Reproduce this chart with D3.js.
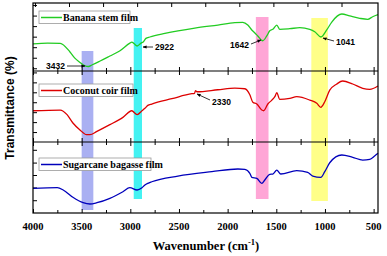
<!DOCTYPE html>
<html>
<head>
<meta charset="utf-8">
<script src="https://cdn.jsdelivr.net/npm/d3@7"></script>
<style>
  body { margin: 0; background: #fff; }
  svg { display: block; }
</style>
</head>
<body>
<svg width="387" height="256"></svg>
<script>
// FTIR spectra, values (relative transmittance, 0-100 within each panel)
const bananaWave = [4000, 3850, 3720, 3620, 3570, 3520, 3465, 3430, 3395, 3310, 3210, 3110, 3005, 2985, 2960, 2930, 2890, 2865, 2840, 2800, 2645, 2337, 2100, 1926, 1844, 1793, 1752, 1720, 1690, 1640, 1598, 1567, 1536, 1495, 1464, 1361, 1259, 1156, 1105, 1041, 982, 930, 827, 745, 643, 561, 510, 455];
const bananaT = [40, 41, 40.7, 28, 19, 13, 7.4, 6.6, 8.8, 14.7, 22, 29.4, 41, 42.6, 40, 36.8, 41, 43, 48, 50, 55.4, 63.2, 67.6, 71, 71.6, 67.6, 60.3, 55.9, 51.5, 44.5, 51.5, 59.2, 61.3, 67.6, 61.3, 62.2, 63.7, 61.3, 57.8, 50, 60.3, 72, 83.8, 80.9, 77.5, 76, 79.8, 82.8];

const coconutWave = [4000, 3720, 3650, 3590, 3520, 3450, 3415, 3343, 3210, 3076, 2985, 2930, 2880, 2850, 2820, 2780, 2573, 2368, 2340, 2330, 2316, 2100, 1926, 1823, 1772, 1741, 1700, 1649, 1630, 1587, 1546, 1515, 1495, 1464, 1361, 1290, 1156, 1084, 1043, 1002, 951, 879, 818, 715, 612, 540, 455];
const coconutT = [44, 45, 38.5, 26.8, 17.4, 10.3, 10.3, 15, 24.4, 34.7, 44, 38.5, 44, 47.5, 51.6, 53.5, 61, 68, 68.5, 72.5, 70.8, 73.6, 76, 75, 66.6, 56, 53.5, 45, 44, 53.5, 59, 63.8, 69.4, 60, 61.5, 63.8, 59, 54.5, 48.9, 56.7, 73, 81.7, 85.9, 81.7, 75.6, 74.2, 78.9];

const bagasseWave = [4000, 3750, 3690, 3590, 3485, 3415, 3343, 3210, 3076, 3005, 2930, 2880, 2850, 2820, 2780, 2511, 2162, 1895, 1823, 1772, 1752, 1700, 1649, 1618, 1567, 1536, 1495, 1454, 1290, 1177, 1125, 1043, 1002, 951, 827, 715, 612, 540, 490, 455];
const bagasseT = [34.7, 35.6, 32.4, 22.1, 14.5, 12.7, 14.5, 20.7, 30, 35.6, 32.4, 35.6, 39.4, 41.8, 44, 52, 58.2, 62, 61.5, 55.9, 50.3, 48.9, 41.8, 46.5, 54.5, 54.9, 60.5, 54.9, 59.6, 57.3, 52, 50.3, 58.2, 70.8, 81.7, 78.4, 74.6, 75.6, 80.3, 84];

const seriesNames = ["Banana stem film", "Coconut coir film", "Sugarcane bagasse film"];

// highlighted absorption regions (wavenumber ranges)
const bandRanges = [[3500, 3380], [2965, 2880], [1710, 1580], [1140, 970]];

// peak labels: wavenumber and the panel it sits in
const peakLabels = ["3432", "2922", "1642", "1041", "2330"];
const peakPanels = [0, 0, 0, 0, 1];

const xTicks = [4000, 3500, 3000, 2500, 2000, 1500, 1000, 500];
const xMinorTicks = [3750, 3250, 2750, 2250, 1750, 1250, 750];
const topBorderTicks = [3980, 3630, 3280, 2930, 2580, 2230, 1880, 1530, 1180, 830];
const yTicksPanels = [
  [4, 19.5, 35, 50.5, 66, 81.5, 97],
  [14, 28, 42, 56, 70, 84, 98],
  [18, 36, 53.5, 71, 89]
];

// layout
const svg = d3.select("svg");
const left = 33, right = 378;
const panels = [{top: 3, bottom: 71}, {top: 71, bottom: 142}, {top: 142, bottom: 213}];
const colors = ["#22cc22", "#dd0000", "#0000bb"];
const bandColors = ["#aab0f2", "#44f2f2", "#ffa6d6", "#ffff88"];
const bandY = [[51, 210], [28, 199], [17, 199], [18, 201]];

const x = d3.scaleLinear().domain([4000, 455]).range([left, right]);
const yScales = panels.map(p => d3.scaleLinear().domain([0, 100]).range([p.bottom, p.top]));

const allData = [
  d3.zip(bananaWave, bananaT),
  d3.zip(coconutWave, coconutT),
  d3.zip(bagasseWave, bagasseT)
];

// bands behind the curves
svg.append("g").selectAll("rect")
  .data(bandRanges)
  .enter().append("rect")
  .attr("x", d => x(d[0]))
  .attr("width", d => x(d[1]) - x(d[0]))
  .attr("y", (d, i) => bandY[i][0])
  .attr("height", (d, i) => bandY[i][1] - bandY[i][0])
  .attr("fill", (d, i) => bandColors[i]);

// axes per panel
panels.forEach((p, i) => {
  const h = p.bottom - p.top;
  const gb = svg.append("g").attr("transform", `translate(0,${p.bottom})`);
  gb.call(d3.axisTop(x).tickValues(xTicks).tickSize(4).tickFormat(""));
  gb.append("g").call(d3.axisTop(x).tickValues(xMinorTicks).tickSize(3).tickFormat(""));

  const gt = svg.append("g").attr("transform", `translate(0,${p.top})`);
  if (i === 0) {
    gt.call(d3.axisBottom(x).tickValues(topBorderTicks).tickSize(4).tickFormat(""));
  } else {
    gt.call(d3.axisBottom(x).tickValues(xTicks).tickSize(4).tickFormat(""));
    gt.append("g").call(d3.axisBottom(x).tickValues(xMinorTicks).tickSize(3).tickFormat(""));
  }

  svg.append("g")
    .attr("transform", `translate(${left},0)`)
    .call(d3.axisRight(yScales[i]).tickValues(yTicksPanels[i]).tickSize(4).tickFormat(""));
});

svg.selectAll(".domain").remove();
svg.selectAll(".tick line").attr("stroke", "#000").attr("stroke-width", 1);

// curves
const line = i => d3.line()
  .x(d => x(d[0]))
  .y(d => yScales[i](d[1]))
  .curve(d3.curveMonotoneX);

allData.forEach((data, i) => {
  svg.append("path")
    .datum(data.slice().reverse())
    .attr("fill", "none")
    .attr("stroke", colors[i])
    .attr("stroke-width", 1.3)
    .attr("stroke-linejoin", "round")
    .attr("d", line(i));
});

// frame and dividers
svg.append("rect")
  .attr("x", left).attr("y", panels[0].top)
  .attr("width", right - left).attr("height", panels[2].bottom - panels[0].top)
  .attr("fill", "none").attr("stroke", "#000").attr("stroke-width", 1.2);
[panels[0].bottom, panels[1].bottom].forEach(yy => {
  svg.append("line")
    .attr("x1", left).attr("x2", right).attr("y1", yy).attr("y2", yy)
    .attr("stroke", "#000").attr("stroke-width", 1.2);
});

// x tick labels
svg.append("g").selectAll("text")
  .data(xTicks)
  .enter().append("text")
  .attr("x", d => x(d))
  .attr("y", 230)
  .attr("text-anchor", "middle")
  .attr("font-family", "Liberation Serif, Times New Roman, serif")
  .attr("font-weight", "bold")
  .attr("font-size", 10.5)
  .text(d => d);

// axis titles
const xt = svg.append("text")
  .attr("x", 206).attr("y", 250)
  .attr("text-anchor", "middle")
  .attr("font-family", "Liberation Serif, Times New Roman, serif")
  .attr("font-weight", "bold")
  .attr("font-size", 12.5);
xt.append("tspan").text("Wavenumber (cm");
xt.append("tspan").attr("dy", -5).attr("font-size", 8.5).text("-1");
xt.append("tspan").attr("dy", 5).text(")");

svg.append("text")
  .attr("transform", "translate(14,108) rotate(-90)")
  .attr("text-anchor", "middle")
  .attr("font-family", "Liberation Sans, Arial, sans-serif")
  .attr("font-weight", "bold")
  .attr("font-size", 12)
  .text("Transmittance (%)");

// legends
const legendBoxes = [
  {x: 39, y: 11, w: 91},
  {x: 39, y: 84, w: 94},
  {x: 39, y: 158, w: 112}
];
legendBoxes.forEach((b, i) => {
  const g = svg.append("g");
  g.append("rect")
    .attr("x", b.x).attr("y", b.y).attr("width", b.w).attr("height", 12.5)
    .attr("fill", "#fff").attr("stroke", "#999").attr("stroke-width", 0.8);
  g.append("line")
    .attr("x1", b.x + 2).attr("x2", b.x + 23)
    .attr("y1", b.y + 6.5).attr("y2", b.y + 6.5)
    .attr("stroke", colors[i]).attr("stroke-width", 1.5);
  g.append("text")
    .attr("x", b.x + 24).attr("y", b.y + 10)
    .attr("font-family", "Liberation Serif, Times New Roman, serif")
    .attr("font-weight", "bold")
    .attr("font-size", 10)
    .text(seriesNames[i]);
});

// peak annotations
svg.append("defs").append("marker")
  .attr("id", "arr")
  .attr("viewBox", "0 0 10 10")
  .attr("refX", 9).attr("refY", 5)
  .attr("markerWidth", 5).attr("markerHeight", 5)
  .attr("orient", "auto")
  .append("path").attr("d", "M0,1L10,5L0,9Z").attr("fill", "#000");

const labelPos = [
  {tx: 65, ty: 69, anchor: "end", x1: 67, y1: 66, x2: 85, y2: 66},
  {tx: 155, ty: 50, anchor: "start", x1: 153, y1: 47, x2: 143, y2: 47},
  {tx: 249, ty: 48, anchor: "end", x1: 251, y1: 44, x2: 261, y2: 40},
  {tx: 336, ty: 45, anchor: "start", x1: 334, y1: 41, x2: 323, y2: 38},
  {tx: 212, ty: 105, anchor: "start", x1: 210, y1: 100, x2: 197, y2: 94}
];
peakLabels.forEach((lab, i) => {
  const p = labelPos[i];
  svg.append("line")
    .attr("x1", p.x1).attr("y1", p.y1).attr("x2", p.x2).attr("y2", p.y2)
    .attr("stroke", "#000").attr("stroke-width", 0.8)
    .attr("marker-end", "url(#arr)");
  svg.append("text")
    .attr("x", p.tx).attr("y", p.ty)
    .attr("text-anchor", p.anchor)
    .attr("font-family", "Liberation Sans, Arial, sans-serif")
    .attr("font-weight", "bold")
    .attr("font-size", 8.5)
    .text(lab);
});
</script>
</body>
</html>
